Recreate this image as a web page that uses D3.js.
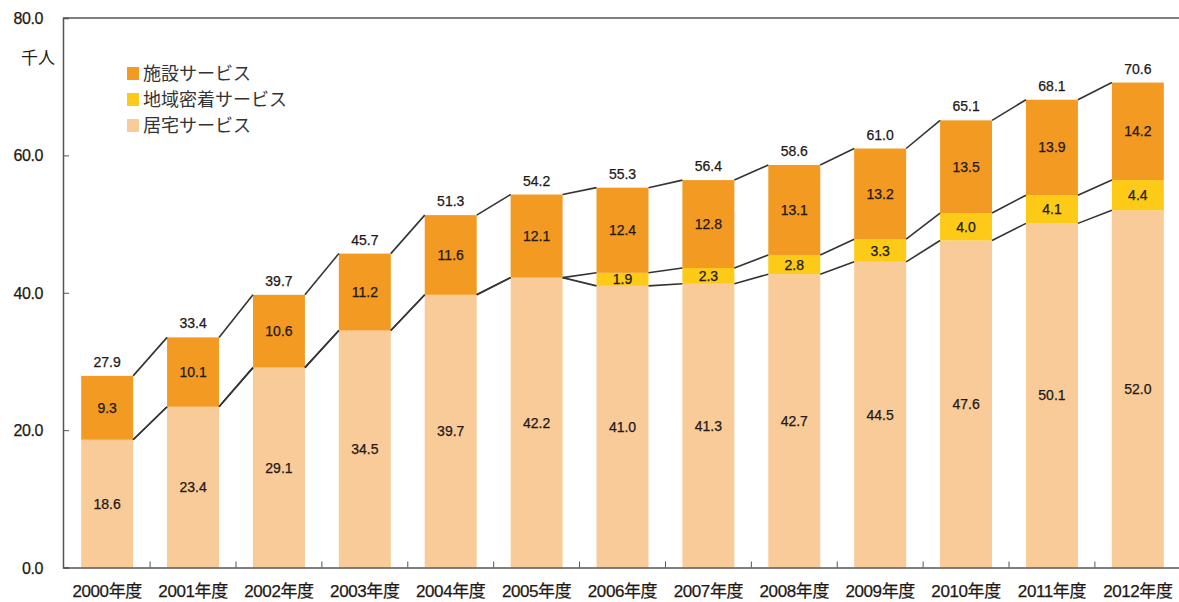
<!DOCTYPE html>
<html>
<head>
<meta charset="utf-8">
<script src="https://cdn.jsdelivr.net/npm/d3@7"></script>
<style>
  body { margin: 0; background: #fff; }
  svg { font-family: "Liberation Sans", "Noto Sans CJK JP", sans-serif; }
  text { fill: #231815; stroke: #231815; stroke-width: 0.25px; }
  .cjk { font-family: "Noto Sans CJK JP", sans-serif; stroke-width: 0; }
</style>
</head>
<body>
<svg></svg>
<script>
const years = ["2000", "2001", "2002", "2003", "2004", "2005", "2006", "2007", "2008", "2009", "2010", "2011", "2012"]
const kyotaku = [18.6, 23.4, 29.1, 34.5, 39.7, 42.2, 41.0, 41.3, 42.7, 44.5, 47.6, 50.1, 52.0]
const chiiki = [0, 0, 0, 0, 0, 0, 1.9, 2.3, 2.8, 3.3, 4.0, 4.1, 4.4]
const shisetsu = [9.3, 10.1, 10.6, 11.2, 11.6, 12.1, 12.4, 12.8, 13.1, 13.2, 13.5, 13.9, 14.2]
const totals = [27.9, 33.4, 39.7, 45.7, 51.3, 54.2, 55.3, 56.4, 58.6, 61.0, 65.1, 68.1, 70.6]
const yTicks = [0, 20, 40, 60, 80]

const seriesNames = ["居宅サービス", "地域密着サービス", "施設サービス"]
const colors = ["#f9cb98", "#fcca17", "#f29a21"]

const svg = d3.select("svg")
	.attr("width", 1179)
	.attr("height", 602)

const x = d3.scaleBand()
	.domain(years)
	.range([64, 1181])
	.paddingInner(0.395)
	.paddingOuter(0.2)

const y = d3.scaleLinear()
	.domain([0, 80])
	.range([567.5, 18])

// stack the three series
const rows = years.map((d, i) => {
	return { year: d, "居宅サービス": kyotaku[i], "地域密着サービス": chiiki[i], "施設サービス": shisetsu[i] }
})
const stacked = d3.stack().keys(seriesNames)(rows)

// top border
svg.append("line")
	.attr("x1", 63).attr("x2", 1179)
	.attr("y1", y(80)).attr("y2", y(80))
	.attr("stroke", "#555").attr("stroke-width", 1.5)

// y axis
const yAxis = svg.append("g")
	.attr("transform", "translate(63,0)")
	.call(d3.axisRight(y).tickValues(yTicks).tickSize(6).tickFormat(""))
yAxis.select(".domain").attr("stroke", "#555").attr("stroke-width", 1.5)
yAxis.selectAll(".tick line").attr("stroke", "#555")

svg.selectAll("text.ylab")
	.data(yTicks)
	.enter()
	.append("text")
	.attr("class", "ylab")
	.attr("x", 43)
	.attr("y", (d) => { return y(d) + 6 })
	.attr("text-anchor", "end")
	.style("font-size", "16px")
	.style("letter-spacing", "-0.4px")
	.text((d) => { return d3.format(".1f")(d) })

svg.append("text")
	.attr("class", "cjk")
	.attr("x", 21)
	.attr("y", 64)
	.style("font-size", "17px")
	.text("千人")

// bars
const layers = svg.selectAll("g.layer")
	.data(stacked)
	.enter()
	.append("g")
	.attr("class", "layer")
	.style("fill", (d, i) => { return colors[i] })

layers.selectAll("rect")
	.data((d) => { return d })
	.enter()
	.append("rect")
	.attr("x", (d) => { return x(d.data.year) })
	.attr("y", (d) => { return y(d[1]) })
	.attr("width", x.bandwidth())
	.attr("height", (d) => { return y(d[0]) - y(d[1]) })

// connector lines between bars, one per stack level
stacked.forEach((layer) => {
	const segs = layer.slice(0, -1).map((d, i) => {
		return [d, layer[i + 1]]
	})
	svg.selectAll(null)
		.data(segs)
		.enter()
		.append("line")
		.attr("x1", (d) => { return x(d[0].data.year) + x.bandwidth() })
		.attr("y1", (d) => { return y(d[0][1]) })
		.attr("x2", (d) => { return x(d[1].data.year) })
		.attr("y2", (d) => { return y(d[1][1]) })
		.attr("stroke", "#333")
		.attr("stroke-width", 1.6)
})

// x axis
const xAxis = svg.append("g")
	.attr("transform", `translate(0,${y(0)})`)
	.call(d3.axisTop(x).tickSize(0).tickFormat(""))
xAxis.select(".domain").attr("stroke", "#555").attr("stroke-width", 1.5)

svg.selectAll("line.xtick")
	.data(years.slice(1))
	.enter()
	.append("line")
	.attr("class", "xtick")
	.attr("x1", (d) => { return x(d) - x.step() * x.paddingInner() / 2 })
	.attr("x2", (d) => { return x(d) - x.step() * x.paddingInner() / 2 })
	.attr("y1", y(0))
	.attr("y2", y(0) - 6)
	.attr("stroke", "#555")

svg.selectAll("text.xlab")
	.data(years)
	.enter()
	.append("text")
	.attr("class", "xlab")
	.attr("x", (d) => { return x(d) + x.bandwidth() / 2 })
	.attr("y", 597)
	.attr("text-anchor", "middle")
	.style("font-size", "17px")
	.style("letter-spacing", "-0.4px")
	.text((d) => { return d + "年度" })

// segment value labels
layers.selectAll("text")
	.data((d) => { return d.filter((s) => { return s[1] - s[0] > 0 }) })
	.enter()
	.append("text")
	.attr("x", (d) => { return x(d.data.year) + x.bandwidth() / 2 })
	.attr("y", (d) => { return y((d[0] + d[1]) / 2) + 5 })
	.attr("text-anchor", "middle")
	.style("font-size", "14px")
	.style("fill", "#231815")
	.text((d) => { return d3.format(".1f")(d[1] - d[0]) })

// totals above bars
svg.selectAll("text.total")
	.data(totals)
	.enter()
	.append("text")
	.attr("class", "total")
	.attr("x", (d, i) => { return x(years[i]) + x.bandwidth() / 2 })
	.attr("y", (d, i) => { return y(stacked[2][i][1]) - 9 })
	.attr("text-anchor", "middle")
	.style("font-size", "14px")
	.text((d) => { return d3.format(".1f")(d) })

// legend
const legendItems = [2, 1, 0]
const legend = svg.selectAll("g.legend")
	.data(legendItems)
	.enter()
	.append("g")
	.attr("class", "legend")
	.attr("transform", (d, i) => { return `translate(127, ${67 + i * 26})` })

legend.append("rect")
	.attr("width", 12)
	.attr("height", 13)
	.style("fill", (d) => { return colors[d] })

legend.append("text")
	.attr("class", "cjk")
	.attr("x", 16)
	.attr("y", 13)
	.style("font-size", "18px")
	.style("fill", "#333")
	.text((d) => { return seriesNames[d] })
</script>
</body>
</html>
